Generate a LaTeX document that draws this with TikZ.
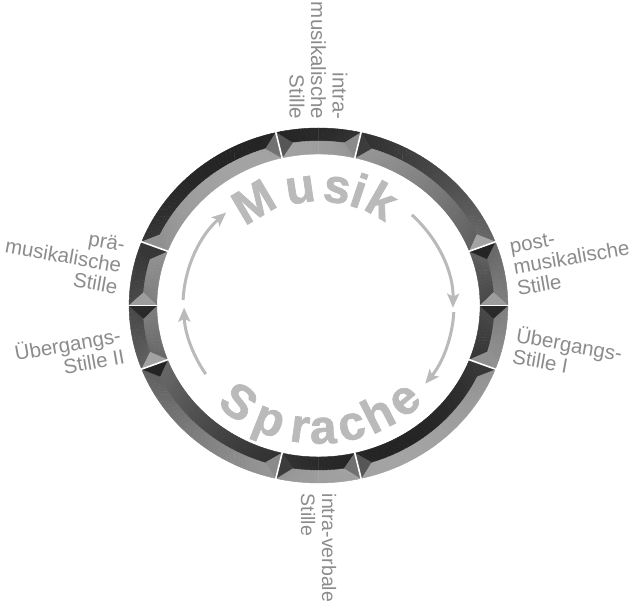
\documentclass[tikz,border=0pt]{standalone}
\usepackage{fontspec}
\setmainfont{Liberation Sans}
\newfontfamily\wordfont[BoldFeatures={FakeBold=1.4}]{Liberation Sans}
\usetikzlibrary{arrows.meta}

\definecolor{labelgray}{gray}{0.55}
\definecolor{wordgray}{gray}{0.73}

% ring radii (y units) and bevel depth (degrees)
\newcommand{\rout}{177.5}
\newcommand{\rmid}{164.5}
\newcommand{\rin}{151.5}
\newcommand{\bev}{4.5}

\tikzset{
  lbl/.style={text=labelgray, font=\fontsize{20.5}{21.5}\selectfont, inner sep=0pt},
  word/.style={text=wordgray, font=\fontsize{48}{48}\wordfont\bfseries, inner sep=0pt, anchor=base},
  flow/.style={draw=wordgray, line width=3pt, -{Stealth[length=14pt, width=12pt, inset=3pt]}},
  facet/.style={fill=#1, draw=#1, line width=0.4pt, line join=round},
  gap/.style={draw=white, line width=1.6pt},
}

% one bevelled piece of the ring from angle #1 to angle #2
\newcommand{\ringpart}[2]{%
  \pgfmathsetmacro{\segw}{#2-(#1)}%
  \pgfmathtruncatemacro{\nsl}{ceil(\segw/1.5)}%
  \pgfmathsetmacro{\sto}{\segw/\nsl}%
  \pgfmathsetmacro{\stm}{(\segw-2*\bev)/\nsl}%
  \foreach \i in {1,...,\nsl}{%
    \pgfmathsetmacro{\angA}{#1+(\i-1)*\sto}%
    \pgfmathsetmacro{\angB}{#1+\i*\sto}%
    \pgfmathsetmacro{\midA}{#1+\bev+(\i-1)*\stm}%
    \pgfmathsetmacro{\midB}{#1+\bev+\i*\stm}%
    \pgfmathsetmacro{\kout}{61+25*cos((\angA+\angB)/2-115)}%
    \pgfmathsetmacro{\kin}{61-25*cos((\angA+\angB)/2-115)}%
    \path[facet=black!\kout] (\angA:\rout) -- (\angB:\rout) -- (\midB:\rmid) -- (\midA:\rmid) -- cycle;
    \path[facet=black!\kin] (\angA:\rin) -- (\angB:\rin) -- (\midB:\rmid) -- (\midA:\rmid) -- cycle;
  }%
  \pgfmathsetmacro{\tipA}{#1+\bev}%
  \pgfmathsetmacro{\tipB}{#2-\bev}%
  \pgfmathsetmacro{\kA}{61+25*cos(#1-205)}%
  \pgfmathsetmacro{\kB}{61+25*cos(#2-25)}%
  \path[facet=black!\kA] (#1:\rout) -- (\tipA:\rmid) -- (#1:\rin) -- cycle;
  \path[facet=black!\kB] (#2:\rout) -- (\tipB:\rmid) -- (#2:\rin) -- cycle;
}

\begin{document}
\begin{tikzpicture}[x=1.067pt, y=1pt]

\path[use as bounding box, fill=white] (-298.5,-299.5) rectangle (292.9,305.5);

% the ring
\ringpart{-21}{0}
\ringpart{0}{21}
\ringpart{21}{77}
\ringpart{77}{103}
\ringpart{103}{159}
\ringpart{159}{180}
\ringpart{180}{201}
\ringpart{201}{257}
\ringpart{257}{283}
\ringpart{283}{339}

\foreach \t in {-21,0,21,77,103,159,180,201,257,283}
  \draw[gap] (\t:150) -- (\t:179);



% labels
\node[lbl, rotate=-90, anchor=east, align=right] (intramus) at (90:186) {intra-\\musikalische\\Stille};
\node[lbl, rotate=-90, anchor=west, align=left, font=\fontsize{19.5}{21}\selectfont] (intraverb) at (270:188) {intra-verbale\\Stille};

\node[lbl, rotate=-10, anchor=east, align=right] (praemus) at (168:189) {prä-\\musikalische\\Stille};
\node[lbl, rotate=10, anchor=east, align=right] (uebzwei) at (192:188) {Übergangs-\\Stille II};

\node[lbl, rotate=10, anchor=west, align=left] (postmus) at (11.5:186.5) {post-\\musikalische\\Stille};
\node[lbl, rotate=-10, anchor=west, align=left] (uebeins) at (-12:188) {Übergangs-\\Stille I};



% Musik
\node[word, rotate=30.6] (m1) at (120.6:104) {M};
\node[word, rotate=8.4] (m2) at (98.4:104) {u};
\node[word, rotate=-8.5] (m3) at (81.5:104) {s};
\node[word, rotate=-18.6] (m4) at (71.4:104) {i};
\node[word, rotate=-29.8] (m5) at (60.2:104) {k};

% Sprache
\node[word, rotate=-37.5] (s1) at (232.5:138) {S};
\node[word, rotate=-21.7] (s2) at (248.3:138) {p};
\node[word, rotate=-8] (s3) at (262:138) {r};
\node[word, rotate=2] (s4) at (272:138) {a};
\node[word, rotate=14.4] (s5) at (284.4:138) {c};
\node[word, rotate=27] (s6) at (297:138) {h};
\node[word, rotate=40.2] (s7) at (310.2:138) {e};



% arrows round the circle
\coordinate (a1) at (213:126);
\coordinate (a2) at (177.5:127);
\coordinate (a3) at (46:126);
\coordinate (a4) at (-3:127);

\draw[flow] (a1) arc[start angle=213, end angle=181, radius=126];
\draw[flow] (a2) arc[start angle=177.5, end angle=133, radius=127];
\draw[flow] (a3) arc[start angle=46, end angle=-1, radius=126];
\draw[flow] (a4) arc[start angle=-3, end angle=-38, radius=127];
\end{tikzpicture}
\end{document}
